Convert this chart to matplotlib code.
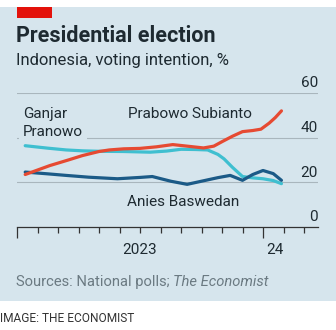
#!/usr/bin/env python3

import matplotlib.pyplot as plt
import matplotlib.transforms as mtransforms
from matplotlib.patches import Rectangle


# months since Jan 1st 2023
PRABOWO_X = [0.4, 1.6, 2.5, 3.2, 4.0, 4.5, 5.2, 6.0, 6.8, 7.6, 8.3, 9.1, 9.6, 10.0, 10.5, 11.0, 11.5, 11.9, 12.3, 12.6, 12.9]
PRABOWO_Y = [23.5, 27.5, 30.0, 32.0, 33.8, 34.5, 35.0, 35.2, 35.9, 36.9, 36.2, 35.4, 36.2, 38.2, 40.6, 42.7, 43.2, 43.8, 46.5, 49.0, 52.0]

GANJAR_X = [0.4, 1.5, 2.4, 3.2, 4.0, 5.2, 6.5, 7.3, 8.0, 8.7, 9.3, 9.8, 10.1, 10.5, 11.0, 11.5, 12.0, 12.5, 12.9]
GANJAR_Y = [36.4, 35.3, 34.5, 34.1, 33.9, 33.8, 33.5, 34.0, 34.8, 34.7, 34.5, 32.5, 30.5, 26.8, 22.6, 22.0, 21.6, 20.8, 19.4]

ANIES_X = [0.4, 1.5, 2.4, 3.5, 4.9, 6.0, 6.6, 7.5, 8.3, 9.0, 9.8, 10.4, 11.0, 11.5, 12.0, 12.5, 12.9]
ANIES_Y = [24.6, 23.8, 23.1, 22.3, 21.6, 22.2, 22.6, 20.5, 19.1, 20.5, 22.1, 23.1, 20.9, 23.5, 25.3, 23.9, 20.9]

Y_TICKS = [0, 20, 40, 60]
MAJOR_TICKS = [0, 12]
MINOR_TICKS = [1, 2, 3, 4, 5, 6, 7, 8, 9, 10, 11, 13, 14]
X_LABELS = ["2023", "24"]
X_LABEL_POS = [6, 12.6]

RED = "#e64a32"
CYAN = "#3fbfd0"
NAVY = "#1b5a87"
PANEL = "#d6e5ed"
TEXT = "#1e2a31"
GRID = "#a9b6bd"

W, H, DPI = 336, 330, 100

plt.rcParams["font.family"] = ["Roboto", "DejaVu Sans"]


def fx(px):
    return px / W


def fy(py):
    return (H - py) / H


fig = plt.figure(figsize=(W / DPI, H / DPI), dpi=DPI, facecolor="white")

# background panel and red tag
fig.add_artist(Rectangle((0, fy(301)), 1, fy(7) - fy(301), transform=fig.transFigure,
                         facecolor=PANEL, edgecolor="none", zorder=-10))
fig.add_artist(Rectangle((fx(17), fy(18)), fx(52) - fx(17), fy(7) - fy(18), transform=fig.transFigure,
                         facecolor="#e3120b", edgecolor="none", zorder=-5))

fig.text(fx(16), fy(42), "Presidential election", fontsize=15.5, fontweight="bold", color=TEXT)
fig.text(fx(16), fy(65), "Indonesia, voting intention, %", fontsize=12, color=TEXT)
src = fig.text(fx(16), fy(286), "Sources: National polls; ", fontsize=10.6, color="#6b7a82")
fig.canvas.draw()
bb = src.get_window_extent()
fig.text(bb.x1 / W, fy(286), "The Economist", fontsize=10.6, color="#6b7a82", style="italic")
fig.text(fx(0), fy(322), "IMAGE: THE ECONOMIST", fontsize=8.6, color="#333333")

ax = fig.add_axes([fx(17), fy(227), fx(318) - fx(17), fy(93) - fy(227)])
ax.set_facecolor("none")
ax.set_xlim(0, (318 - 17) / 20.5)
ax.set_ylim(0, 60)

for v in Y_TICKS[1:]:
    ax.axhline(v, color=GRID, lw=0.8, zorder=1)

trans = mtransforms.blended_transform_factory(ax.transAxes, ax.transData)
for v in Y_TICKS:
    ax.text(1.0, v + 1.2, str(v), transform=trans, ha="right", va="bottom",
            fontsize=11, color=TEXT)

ax.plot(GANJAR_X, GANJAR_Y, color=CYAN, lw=2.3, solid_capstyle="round", zorder=3)
ax.plot(ANIES_X, ANIES_Y, color=NAVY, lw=2.3, solid_capstyle="round", zorder=4)
ax.plot(PRABOWO_X, PRABOWO_Y, color=RED, lw=2.3, solid_capstyle="round", zorder=5)

ax.text(0.3, 49.0, "Ganjar", fontsize=11, color=TEXT, va="baseline", ha="left", zorder=2)
ax.text(0.3, 40.9, "Pranowo", fontsize=11, color=TEXT, va="baseline", ha="left", zorder=2,
        bbox=dict(facecolor=PANEL, edgecolor="none", pad=3))
ax.text(5.4, 50.5, "Prabowo Subianto", fontsize=11, color=TEXT, va="center", ha="left")
ax.text(5.35, 11.3, "Anies Baswedan", fontsize=11, color=TEXT, va="center", ha="left")

for side in ["top", "right", "left"]:
    ax.spines[side].set_visible(False)
ax.spines["bottom"].set_color("#333333")
ax.spines["bottom"].set_linewidth(0.9)
ax.set_yticks([])
ax.set_xticks(MAJOR_TICKS)
ax.set_xticklabels([])
ax.set_xticks(MINOR_TICKS, minor=True)
ax.tick_params(axis="x", which="major", length=8, width=0.9, color="#333333")
ax.tick_params(axis="x", which="minor", length=4, width=0.9, color="#333333")
for label, pos in zip(X_LABELS, X_LABEL_POS):
    ax.text(pos, -7.0, label, ha="center", va="top", fontsize=11, color=TEXT)

fig.savefig("out.png", dpi=DPI, facecolor="white")
